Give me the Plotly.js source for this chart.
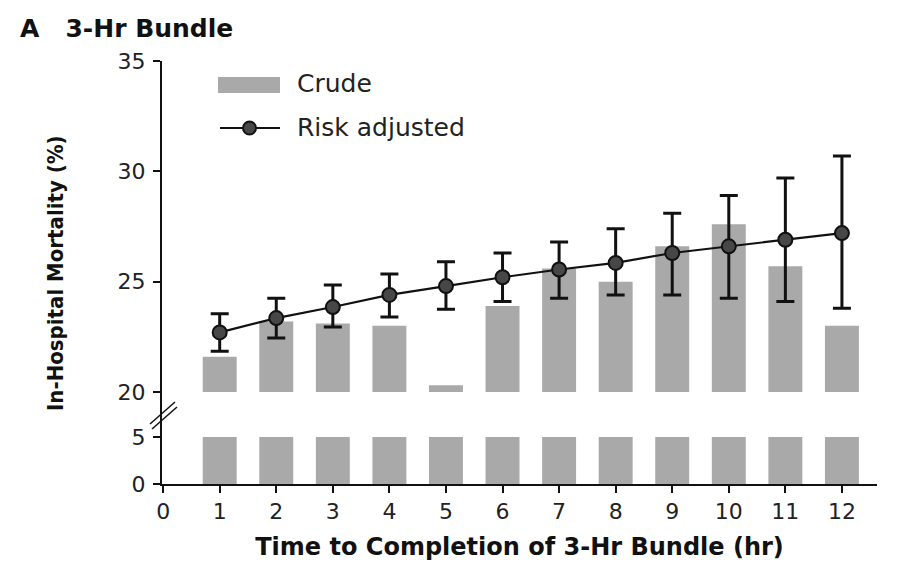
<!DOCTYPE html>
<html>
<head>
<meta charset="utf-8">
<script src="https://cdn.plot.ly/plotly-3.0.1.min.js"></script>
<style>html,body{margin:0;padding:0;background:#fff;}#chart{width:901px;height:584px;}</style>
</head>
<body>
<div id="chart"></div>
<script>
// Data
const hours = [1, 2, 3, 4, 5, 6, 7, 8, 9, 10, 11, 12];
const crude = [21.6, 23.2, 23.1, 23.0, 20.3, 23.9, 25.6, 25.0, 26.6, 27.6, 25.7, 23.0];
const riskAdjusted = [22.7, 23.35, 23.85, 24.4, 24.8, 25.2, 25.55, 25.85, 26.3, 26.6, 26.9, 27.2];
const ciLower = [21.85, 22.45, 22.95, 23.4, 23.75, 24.1, 24.25, 24.4, 24.4, 24.25, 24.1, 23.8];
const ciUpper = [23.55, 24.25, 24.85, 25.35, 25.9, 26.3, 26.8, 27.4, 28.1, 28.9, 29.7, 30.7];
const lowerSegment = [5, 5, 5, 5, 5, 5, 5, 5, 5, 5, 5, 5];
const breakBase = 20;
const xTicks = [0, 1, 2, 3, 4, 5, 6, 7, 8, 9, 10, 11, 12];
const yUpperTicks = [20, 25, 30, 35];
const yLowerTicks = [0, 5];

const barColor = '#a9a9a9';
const tickFont = {family: 'DejaVu Sans, sans-serif', size: 22, color: '#222'};

// plot area pixel geometry
const L = 162, R = 24, T = 61, B = 100;
const W = 901 - L - R, H = 584 - T - B;
const splitPx = 405; // pixel y where the axis break is
const split = (584 - B - splitPx) / H;
const px = x => (x - L) / W;
const py = y => (584 - B - y) / H;

const traces = [
  {
    type: 'bar', x: hours, y: crude.map(v => v - breakBase), base: breakBase,
    yaxis: 'y2', width: 0.6, marker: {color: barColor}, name: 'Crude', showlegend: false
  },
  {
    type: 'bar', x: hours, y: lowerSegment, yaxis: 'y', width: 0.6,
    marker: {color: barColor}, showlegend: false
  },
  {
    type: 'scatter', mode: 'lines+markers', x: hours, y: riskAdjusted, yaxis: 'y2',
    name: 'Risk adjusted', showlegend: false,
    line: {color: '#111', width: 2.2},
    marker: {size: 14, color: '#474747', line: {color: '#111', width: 2}},
    error_y: {
      type: 'data', symmetric: false,
      array: ciUpper.map((u, i) => u - riskAdjusted[i]),
      arrayminus: riskAdjusted.map((v, i) => v - ciLower[i]),
      color: '#111', thickness: 3, width: 9
    }
  }
];

const axisCommon = {
  showgrid: false, zeroline: false, showline: true, linecolor: '#111', linewidth: 2,
  ticks: 'outside', ticklen: 7, tickwidth: 2, tickcolor: '#111', tickfont: tickFont
};

const layout = {
  width: 901, height: 584,
  margin: {l: L, r: R, t: T, b: B, pad: 0},
  paper_bgcolor: '#fff', plot_bgcolor: '#fff',
  showlegend: false,
  title: {
    text: '<b>A&nbsp;&nbsp;&nbsp;3-Hr Bundle</b>',
    font: {family: 'DejaVu Sans, sans-serif', size: 25, color: '#111'},
    xref: 'container', yref: 'container', x: 20 / 901, xanchor: 'left',
    y: 1 - 28 / 584, yanchor: 'middle'
  },
  xaxis: Object.assign({}, axisCommon, {
    range: [-0.02, 12.62], tickvals: xTicks, ticktext: xTicks.map(String), anchor: 'y',
    title: {text: '<b>Time to Completion of 3-Hr Bundle (hr)</b>',
      font: {family: 'DejaVu Sans, sans-serif', size: 24, color: '#111'}, standoff: 15}
  }),
  yaxis: Object.assign({}, axisCommon, {
    domain: [0, split], range: [0, (584 - B - splitPx) / 9.4], ticklabelstandoff: 3,
    tickvals: yLowerTicks, ticktext: yLowerTicks.map(String), anchor: 'x'
  }),
  yaxis2: Object.assign({}, axisCommon, {
    domain: [split, 1], range: [breakBase - (splitPx - 392) / 22.05, 35], ticklabelstandoff: 3,
    tickvals: yUpperTicks, ticktext: yUpperTicks.map(String), anchor: 'x'
  }),
  shapes: [
    // axis break marks
    {type: 'line', xref: 'paper', yref: 'paper', x0: px(150), y0: py(424), x1: px(175), y1: py(402), line: {color: '#111', width: 1.5}},
    {type: 'line', xref: 'paper', yref: 'paper', x0: px(152), y0: py(429), x1: px(177), y1: py(407), line: {color: '#111', width: 1.5}},
    // legend symbols
    {type: 'rect', xref: 'paper', yref: 'paper', x0: px(218), x1: px(280), y0: py(93), y1: py(77), fillcolor: barColor, line: {width: 0}},
    {type: 'line', xref: 'paper', yref: 'paper', x0: px(220), x1: px(280), y0: py(128), y1: py(128), line: {color: '#111', width: 2.2}},
    {type: 'circle', xref: 'paper', yref: 'paper', x0: px(243), x1: px(256), y0: py(134.5), y1: py(121.5), fillcolor: '#474747', line: {color: '#111', width: 2}}
  ],
  annotations: [
    {text: 'Crude', xref: 'paper', yref: 'paper', x: px(295), y: py(84), xanchor: 'left', yanchor: 'middle', showarrow: false,
      font: {family: 'DejaVu Sans, sans-serif', size: 25, color: '#222'}},
    {text: 'Risk adjusted', xref: 'paper', yref: 'paper', x: px(295), y: py(127), xanchor: 'left', yanchor: 'middle', showarrow: false,
      font: {family: 'DejaVu Sans, sans-serif', size: 25, color: '#222'}},
    {text: '<b>In-Hospital Mortality (%)</b>', xref: 'paper', yref: 'paper', x: px(55), y: py(273), xanchor: 'center', yanchor: 'middle',
      textangle: -90, showarrow: false,
      font: {family: 'Liberation Sans Narrow, DejaVu Sans Condensed, sans-serif', size: 22, color: '#111'}}
  ]
};

Plotly.newPlot('chart', traces, layout, {displayModeBar: false, staticPlot: true});
</script>
</body>
</html>
